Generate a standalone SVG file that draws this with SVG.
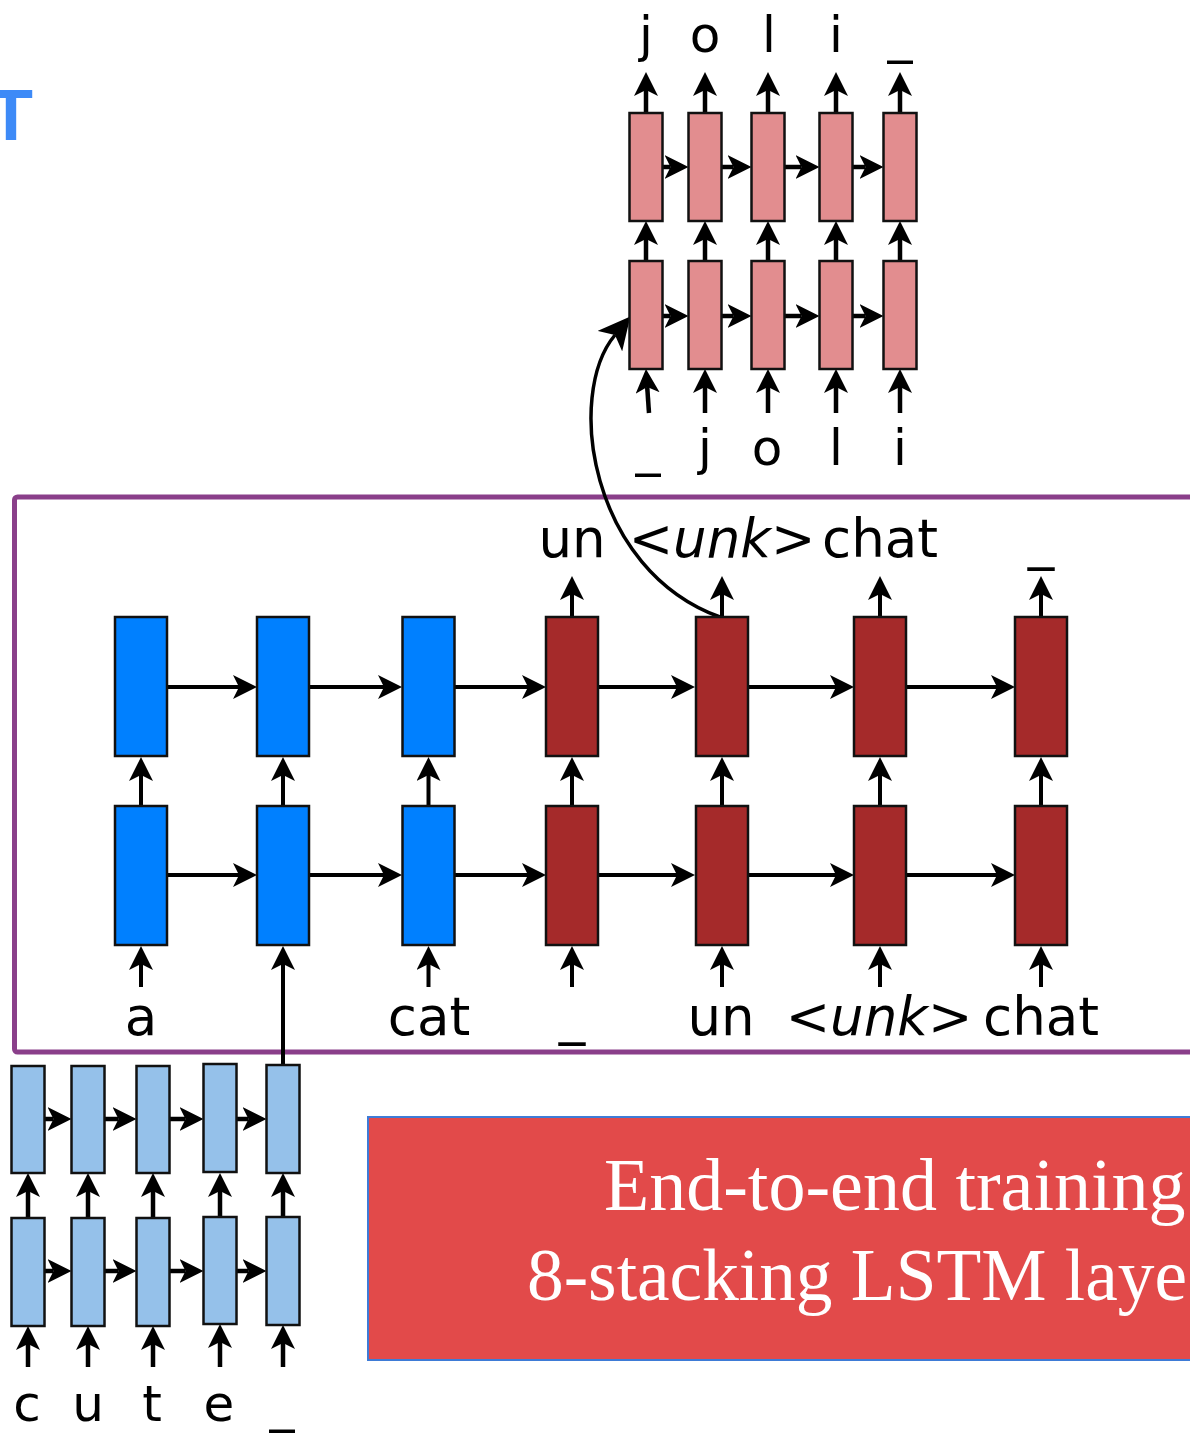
<svg xmlns="http://www.w3.org/2000/svg" width="1190" height="1440" viewBox="0 0 1190 1440">
<style>
.box{stroke:#111;stroke-width:2.5}
.blue{fill:#0080FF}
.red{fill:#A52A2A}
.pink{fill:#E28D8F}
.lblue{fill:#95C1EA}
.ar{stroke:#000;stroke-width:4;fill:none;marker-end:url(#ah)}
.ars{stroke:#000;stroke-width:4.5;fill:none;marker-end:url(#ah)}
.lbl{font-family:"DejaVu Sans",sans-serif;font-size:53px;fill:#000;text-anchor:middle}
.sl{font-family:"DejaVu Sans",sans-serif;font-size:50px;fill:#000;text-anchor:middle}
</style>
<defs>
<marker id="ah" viewBox="0 0 24 24" markerWidth="24" markerHeight="24" refX="6" refY="12" orient="auto" markerUnits="userSpaceOnUse"><path d="M24 12 L0 0 L6 12 L0 24 Z" fill="#000"/></marker>
<marker id="ahc" viewBox="0 0 32 32" markerWidth="32" markerHeight="32" refX="8" refY="16" orient="auto" markerUnits="userSpaceOnUse"><path d="M32 16 L0 0 L8 16 L0 32 Z" fill="#000"/></marker>
</defs>
<rect width="1190" height="1440" fill="#fff"/>

<text id="title-T" x="-11" y="140" font-family="Liberation Sans, sans-serif" font-weight="bold" font-size="72" fill="#3D8AF7">T</text>

<rect id="frame" x="14.5" y="497" width="1200" height="555" rx="3" fill="none" stroke="#8A3F8A" stroke-width="5"/>

<g id="red-banner">
<rect x="368" y="1117" width="840" height="243" fill="#E24A4A" stroke="#3E7BD6" stroke-width="2"/>
<text x="604" y="1210" font-family="Liberation Serif, serif" font-size="74" fill="#fff">End-to-end training</text>
<text x="527" y="1300" font-family="Liberation Serif, serif" font-size="74" fill="#fff" textLength="660" lengthAdjust="spacingAndGlyphs">8-stacking LSTM laye</text>
</g>

<g id="connectors">
<line class="ar" x1="167" y1="687" x2="239" y2="687"/>
<line class="ar" x1="309" y1="687" x2="384" y2="687"/>
<line class="ar" x1="455" y1="687" x2="528" y2="687"/>
<line class="ar" x1="598" y1="687" x2="677" y2="687"/>
<line class="ar" x1="747" y1="687" x2="836" y2="687"/>
<line class="ar" x1="906" y1="687" x2="997" y2="687"/>
<line class="ar" x1="167" y1="875" x2="239" y2="875"/>
<line class="ar" x1="309" y1="875" x2="384" y2="875"/>
<line class="ar" x1="455" y1="875" x2="528" y2="875"/>
<line class="ar" x1="598" y1="875" x2="677" y2="875"/>
<line class="ar" x1="747" y1="875" x2="836" y2="875"/>
<line class="ar" x1="906" y1="875" x2="997" y2="875"/>
<line class="ar" x1="141" y1="805" x2="141" y2="775"/>
<line class="ar" x1="283" y1="805" x2="283" y2="775"/>
<line class="ar" x1="428.5" y1="805" x2="428.5" y2="775"/>
<line class="ar" x1="572" y1="805" x2="572" y2="775"/>
<line class="ar" x1="722" y1="805" x2="722" y2="775"/>
<line class="ar" x1="880" y1="805" x2="880" y2="775"/>
<line class="ar" x1="1041" y1="805" x2="1041" y2="775"/>
<line class="ar" x1="141" y1="987" x2="141" y2="964"/>
<line class="ar" x1="428.5" y1="987" x2="428.5" y2="964"/>
<line class="ar" x1="572" y1="987" x2="572" y2="964"/>
<line class="ar" x1="722" y1="987" x2="722" y2="964"/>
<line class="ar" x1="880" y1="987" x2="880" y2="964"/>
<line class="ar" x1="1041" y1="987" x2="1041" y2="964"/>
<line class="ar" x1="283" y1="1066" x2="283" y2="964"/>
<line class="ar" x1="572" y1="617" x2="572" y2="594"/>
<line class="ar" x1="722" y1="617" x2="722" y2="594"/>
<line class="ar" x1="880" y1="617" x2="880" y2="594"/>
<line class="ar" x1="1041" y1="617" x2="1041" y2="594"/>
<path d="M 720 617 C 590 570, 565 395, 615 335" stroke="#000" stroke-width="3.5" fill="none" marker-end="url(#ahc)"/>
<line class="ars" x1="662" y1="167" x2="670.5" y2="167"/>
<line class="ars" x1="721" y1="167" x2="733.5" y2="167"/>
<line class="ars" x1="784" y1="167" x2="801.5" y2="167"/>
<line class="ars" x1="852" y1="167" x2="865.5" y2="167"/>
<line class="ars" x1="662" y1="316" x2="670.5" y2="316"/>
<line class="ars" x1="721" y1="316" x2="733.5" y2="316"/>
<line class="ars" x1="784" y1="316" x2="801.5" y2="316"/>
<line class="ars" x1="852" y1="316" x2="865.5" y2="316"/>
<line class="ars" x1="646" y1="113" x2="646" y2="90"/>
<line class="ars" x1="705" y1="113" x2="705" y2="90"/>
<line class="ars" x1="768" y1="113" x2="768" y2="90"/>
<line class="ars" x1="836" y1="113" x2="836" y2="90"/>
<line class="ars" x1="900" y1="113" x2="900" y2="90"/>
<line class="ars" x1="646" y1="261" x2="646" y2="239"/>
<line class="ars" x1="705" y1="261" x2="705" y2="239"/>
<line class="ars" x1="768" y1="261" x2="768" y2="239"/>
<line class="ars" x1="836" y1="261" x2="836" y2="239"/>
<line class="ars" x1="900" y1="261" x2="900" y2="239"/>
<line class="ars" x1="649" y1="413" x2="647.2" y2="387"/>
<line class="ars" x1="705" y1="413" x2="705" y2="387"/>
<line class="ars" x1="768" y1="413" x2="768" y2="387"/>
<line class="ars" x1="836" y1="413" x2="836" y2="387"/>
<line class="ars" x1="900" y1="413" x2="900" y2="387"/>
<line class="ars" x1="44" y1="1119" x2="53.5" y2="1119"/>
<line class="ars" x1="104" y1="1119" x2="118.5" y2="1119"/>
<line class="ars" x1="169" y1="1119" x2="185.5" y2="1119"/>
<line class="ars" x1="236" y1="1119" x2="248.5" y2="1119"/>
<line class="ars" x1="44" y1="1271" x2="53.5" y2="1271"/>
<line class="ars" x1="104" y1="1271" x2="118.5" y2="1271"/>
<line class="ars" x1="169" y1="1271" x2="185.5" y2="1271"/>
<line class="ars" x1="236" y1="1271" x2="248.5" y2="1271"/>
<line class="ars" x1="28" y1="1218" x2="28" y2="1191"/>
<line class="ars" x1="88" y1="1218" x2="88" y2="1191"/>
<line class="ars" x1="153" y1="1218" x2="153" y2="1191"/>
<line class="ars" x1="220" y1="1217" x2="220" y2="1191"/>
<line class="ars" x1="283" y1="1217" x2="283" y2="1191"/>
<line class="ars" x1="28" y1="1367" x2="28" y2="1344"/>
<line class="ars" x1="88" y1="1367" x2="88" y2="1344"/>
<line class="ars" x1="153" y1="1367" x2="153" y2="1344"/>
<line class="ars" x1="220" y1="1367" x2="220" y2="1342"/>
<line class="ars" x1="283" y1="1367" x2="283" y2="1343"/>
</g>

<g id="main-blue-1"><rect class="box blue" x="115" y="617" width="52" height="139"/><rect class="box blue" x="115" y="806" width="52" height="139"/></g>
<g id="main-blue-2"><rect class="box blue" x="257" y="617" width="52" height="139"/><rect class="box blue" x="257" y="806" width="52" height="139"/></g>
<g id="main-blue-3"><rect class="box blue" x="402.5" y="617" width="52" height="139"/><rect class="box blue" x="402.5" y="806" width="52" height="139"/></g>
<g id="main-red-4"><rect class="box red" x="546" y="617" width="52" height="139"/><rect class="box red" x="546" y="806" width="52" height="139"/></g>
<g id="main-red-5"><rect class="box red" x="696" y="617" width="52" height="139"/><rect class="box red" x="696" y="806" width="52" height="139"/></g>
<g id="main-red-6"><rect class="box red" x="854" y="617" width="52" height="139"/><rect class="box red" x="854" y="806" width="52" height="139"/></g>
<g id="main-red-7"><rect class="box red" x="1015" y="617" width="52" height="139"/><rect class="box red" x="1015" y="806" width="52" height="139"/></g>

<g id="pink-1"><rect class="box pink" x="629.5" y="113" width="33" height="108"/><rect class="box pink" x="629.5" y="261" width="33" height="108"/></g>
<g id="pink-2"><rect class="box pink" x="688.5" y="113" width="33" height="108"/><rect class="box pink" x="688.5" y="261" width="33" height="108"/></g>
<g id="pink-3"><rect class="box pink" x="751.5" y="113" width="33" height="108"/><rect class="box pink" x="751.5" y="261" width="33" height="108"/></g>
<g id="pink-4"><rect class="box pink" x="819.5" y="113" width="33" height="108"/><rect class="box pink" x="819.5" y="261" width="33" height="108"/></g>
<g id="pink-5"><rect class="box pink" x="883.5" y="113" width="33" height="108"/><rect class="box pink" x="883.5" y="261" width="33" height="108"/></g>

<g id="lblue-1"><rect class="box lblue" x="11.5" y="1066" width="33" height="107"/><rect class="box lblue" x="11.5" y="1218" width="33" height="108"/></g>
<g id="lblue-2"><rect class="box lblue" x="71.5" y="1066" width="33" height="107"/><rect class="box lblue" x="71.5" y="1218" width="33" height="108"/></g>
<g id="lblue-3"><rect class="box lblue" x="136.5" y="1066" width="33" height="107"/><rect class="box lblue" x="136.5" y="1218" width="33" height="108"/></g>
<g id="lblue-4"><rect class="box lblue" x="203.5" y="1064" width="33" height="108"/><rect class="box lblue" x="203.5" y="1217" width="33" height="107"/></g>
<g id="lblue-5"><rect class="box lblue" x="266.5" y="1065" width="33" height="108"/><rect class="box lblue" x="266.5" y="1217" width="33" height="108"/></g>

<g id="labels">
<text class="lbl" x="572" y="557">un</text>
<text class="lbl" x="722" y="557">&lt;<tspan font-style="italic">unk</tspan>&gt;</text>
<text class="lbl" x="880" y="557">chat</text>
<text class="lbl" x="1041" y="558">_</text>
<text class="lbl" x="141" y="1035">a</text>
<text class="lbl" x="429" y="1035">cat</text>
<text class="lbl" x="572" y="1033">_</text>
<text class="lbl" x="721" y="1035">un</text>
<text class="lbl" x="879" y="1035">&lt;<tspan font-style="italic">unk</tspan>&gt;</text>
<text class="lbl" x="1041" y="1035">chat</text>
<text class="sl" x="646" y="52">j</text>
<text class="sl" x="705" y="52">o</text>
<text class="sl" x="769" y="52">l</text>
<text class="sl" x="836" y="52">i</text>
<text class="sl" x="900" y="52">_</text>
<text class="sl" x="648" y="465">_</text>
<text class="sl" x="705" y="465">j</text>
<text class="sl" x="767" y="465">o</text>
<text class="sl" x="836" y="465">l</text>
<text class="sl" x="900" y="465">i</text>
<text class="sl" x="27" y="1421">c</text>
<text class="sl" x="88" y="1421">u</text>
<text class="sl" x="152" y="1421">t</text>
<text class="sl" x="219" y="1421">e</text>
<text class="sl" x="282" y="1421">_</text>
</g>
</svg>
